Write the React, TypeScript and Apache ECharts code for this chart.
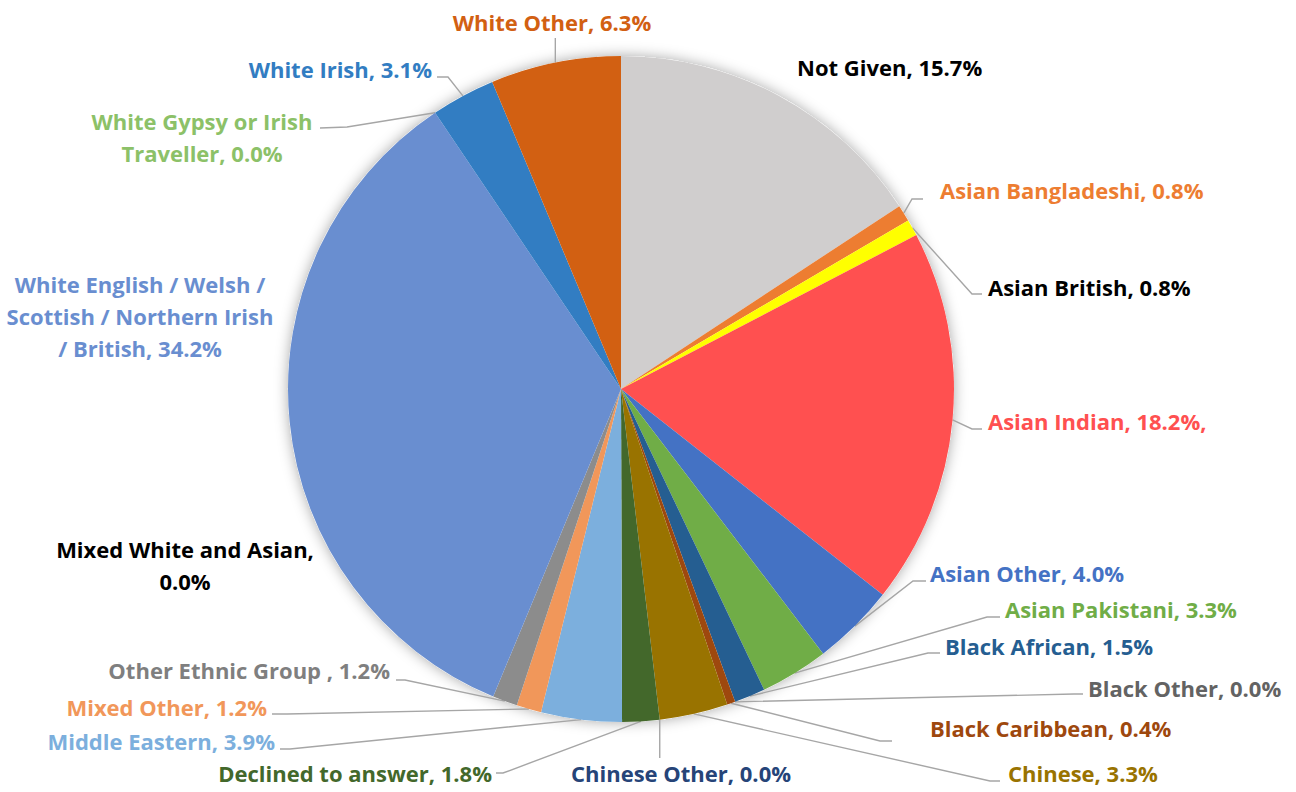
import React, { useEffect, useRef } from "react";
import * as echarts from "echarts";

// ---- data (percent of total) ----
const categories = [
  "Not Given",
  "Asian Bangladeshi",
  "Asian British",
  "Asian Indian",
  "Asian Other",
  "Asian Pakistani",
  "Black African",
  "Black Other",
  "Black Caribbean",
  "Chinese",
  "Chinese Other",
  "Declined to answer",
  "Middle Eastern",
  "Mixed Other",
  "Other Ethnic Group",
  "Mixed White and Asian",
  "White English / Welsh / Scottish / Northern Irish / British",
  "White Gypsy or Irish Traveller",
  "White Irish",
  "White Other",
];

const values = [15.7, 0.8, 0.8, 18.2, 4.0, 3.3, 1.5, 0.0, 0.4, 3.3, 0.0, 1.8, 3.9, 1.2, 1.2, 0.0, 34.2, 0.0, 3.1, 6.3];

// label text templates ({v} = value)
const labelTemplates = [
  "Not Given, {v}%",
  "Asian Bangladeshi, {v}%",
  "Asian British, {v}%",
  "Asian Indian, {v}%,",
  "Asian Other, {v}%",
  "Asian Pakistani, {v}%",
  "Black African, {v}%",
  "Black Other, {v}%",
  "Black Caribbean, {v}%",
  "Chinese, {v}%",
  "Chinese Other, {v}%",
  "Declined to answer, {v}%",
  "Middle Eastern, {v}%",
  "Mixed Other, {v}%",
  "Other Ethnic Group , {v}%",
  "Mixed White and Asian,\n{v}%",
  "White English / Welsh /\nScottish / Northern Irish\n/ British, {v}%",
  "White Gypsy or Irish\nTraveller, {v}%",
  "White Irish, {v}%",
  "White Other, {v}%",
];

// ---- styles ----
const sliceColors = [
  "#D0CECE", "#ED7D31", "#FFFF00", "#FF5050", "#4472C4", "#70AD47", "#255E91", "#636363",
  "#9E480E", "#997300", "#264478", "#43682B", "#7CAFDD", "#F1975A", "#8C8C8C", "#000000",
  "#698ED0", "#8CC168", "#327DC2", "#D26012",
];
const labelColors = [
  "#000000", "#ED7D31", "#000000", "#FF5050", "#4472C4", "#70AD47", "#255E91", "#636363",
  "#9E480E", "#997300", "#264478", "#43682B", "#7CAFDD", "#F1975A", "#7F7F7F", "#000000",
  "#698ED0", "#8CC168", "#327DC2", "#D26012",
];

// ---- label placement (layout only) ----
type Place = { x: number; y: number; align: string; pts?: number[][]; vert?: number; noLine?: boolean };
const labelPlaces: Place[] = [
  { x: 797, y: 67, align: "left", noLine: true },
  { x: 940, y: 190, align: "left", pts: [[912, 199], [923, 199]] },
  { x: 988, y: 287, align: "left", pts: [[972, 294], [982, 294]] },
  { x: 988, y: 421, align: "left", pts: [[972, 429], [982, 429]] },
  { x: 930, y: 573, align: "left", pts: [[913, 581], [926, 581]] },
  { x: 1005, y: 609, align: "left", pts: [[987, 617], [1000, 617]] },
  { x: 945, y: 646, align: "left", pts: [[928, 653], [940, 653]] },
  { x: 1088, y: 688, align: "left", pts: [[1074, 694], [1083, 694]] },
  { x: 930, y: 728, align: "left", pts: [[880, 741], [892, 741]] },
  { x: 1008, y: 773, align: "left", pts: [[990, 781], [1000, 781]] },
  { x: 681, y: 773, align: "center", vert: 758 },
  { x: 492, y: 773, align: "right", pts: [[503, 773], [496, 773]] },
  { x: 275, y: 741, align: "right", pts: [[290, 749], [280, 749]] },
  { x: 267, y: 707, align: "right", pts: [[287, 714], [272, 714]] },
  { x: 390, y: 670, align: "right", pts: [[405, 680], [396, 680]] },
  { x: 185, y: 565, align: "center", noLine: true },
  { x: 140, y: 316, align: "center", noLine: true },
  { x: 202, y: 137, align: "center", pts: [[347, 127], [320, 128]] },
  { x: 432, y: 69, align: "right", pts: [[448, 77], [437, 77]] },
  { x: 552, y: 22, align: "center", vert: 38 },
];

const CENTER = [621, 389];
const RADIUS = 333;

function edgePoint(i: number): number[] {
  const total = values.reduce((a, b) => a + b, 0);
  let before = 0;
  for (let k = 0; k < i; k++) before += values[k];
  const mid = ((before + values[i] / 2) / total) * Math.PI * 2;
  return [CENTER[0] + RADIUS * Math.sin(mid), CENTER[1] - RADIUS * Math.cos(mid)];
}

export default function App() {
  const ref = useRef<HTMLDivElement>(null);

  useEffect(() => {
    if (!ref.current) return;
    const chart = echarts.init(ref.current, undefined, { renderer: "svg" });
    const font = "'Open Sans', Lato, sans-serif";

    const data = categories.map((name, i) => ({
      name,
      value: values[i],
      itemStyle: { color: sliceColors[i] },
      label: { color: labelColors[i] },
      labelLine: { show: !labelPlaces[i].noLine },
    }));

    chart.setOption({
      animation: false,
      backgroundColor: "#ffffff",
      series: [
        {
          type: "pie",
          center: CENTER,
          radius: RADIUS,
          silent: true,
          z: 1,
          label: { show: false },
          labelLine: { show: false },
          itemStyle: {
            color: "#ffffff",
            shadowBlur: 14,
            shadowColor: "rgba(0,0,0,0.35)",
          },
          data: [{ value: 1, name: "" }],
        },
        {
          type: "pie",
          center: CENTER,
          radius: RADIUS,
          startAngle: 90,
          clockwise: true,
          z: 2,
          avoidLabelOverlap: false,
          itemStyle: { borderWidth: 0 },
          label: {
            show: true,
            position: "outside",
            fontFamily: font,
            fontWeight: "bold",
            fontSize: 22,
            lineHeight: 32,
            overflow: "none",
            formatter: (p: any) => labelTemplates[p.dataIndex].replace("{v}", Number(p.value).toFixed(1)),
          },
          labelLine: {
            show: true,
            smooth: false,
            lineStyle: { color: "#A6A6A6", width: 1.4 },
          },
          labelLayout: (params: any) => {
            const i = params.dataIndex;
            const pl = labelPlaces[i];
            const p0 =
              params.labelLinePoints && params.labelLinePoints[0]
                ? params.labelLinePoints[0]
                : edgePoint(i);
            let pts: number[][] | undefined;
            if (pl.vert != null) {
              pts = [p0, [p0[0], (p0[1] + pl.vert) / 2], [p0[0], pl.vert]];
            } else if (pl.pts) {
              pts = [p0, pl.pts[0], pl.pts[1]];
            }
            const out: any = {
              x: pl.x,
              y: pl.y,
              align: pl.align,
              verticalAlign: "middle",
            };
            if (pts) out.labelLinePoints = pts;
            return out;
          },
          data,
        },
      ],
    });

    return () => chart.dispose();
  }, []);

  return (
    <div
      ref={ref}
      style={{ position: "absolute", left: 0, top: 0, width: 1296, height: 792 }}
    />
  );
}
